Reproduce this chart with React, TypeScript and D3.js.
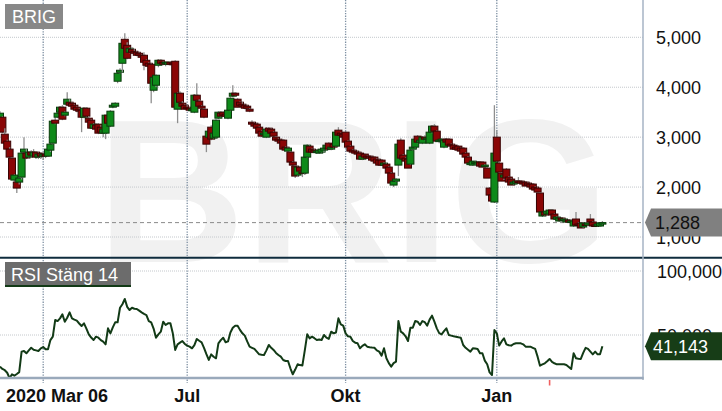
import React from 'react';
import * as d3 from 'd3';

// Daily candles, 2020-03-06 .. 2021-03-05 (index = trading day)
const OPEN = [
  3320, 3400, 3060, 2920, 2760, 2580, 2140, 2100, 2100, 2200,
  2700, 2680, 2600, 2700, 2620, 2700, 2600, 2680, 2620, 2660,
  2620, 2740, 2880, 3340, 3400, 3500, 3600, 3440, 3660, 3700,
  3680, 3640, 3600, 3560, 3540, 3400, 3580, 3380, 3340, 3180,
  3240, 3260, 3200, 3080, 3080, 3440, 3220, 3600, 3620, 4120,
  4300, 4480, 4960, 4840, 4700, 4760, 4720, 4700, 4680, 4640,
  4640, 4540, 4480, 4460, 3940, 4040, 4440, 4540, 4500, 4480,
  4460, 4500, 4480, 4520, 3560, 3880, 3680, 3640, 3600, 3580,
  3540, 3500, 3840, 3720, 3620, 3560, 3020, 3000, 3200, 2980,
  3000, 3380, 3480, 3500, 3460, 3380, 3540, 3820, 3880, 3760,
  3700, 3660, 3640, 3620, 3560, 3300, 3280, 3260, 3200, 3120,
  3060, 3000, 3180, 3160, 3100, 3000, 2960, 2940, 2940, 2800,
  2720, 2700, 2500, 2420, 2240, 2400, 2300, 2280, 2600, 2820,
  2760, 2740, 2700, 2680, 2700, 2740, 2780, 2880, 2760, 2860,
  2820, 3140, 3080, 3060, 3100, 2920, 2820, 2740, 2720, 2700,
  2680, 2560, 2660, 2620, 2620, 2600, 2600, 2560, 2540, 2540,
  2440, 2460, 2400, 2280, 2040, 2120, 2440, 2940, 2640, 2580,
  2560, 2460, 2760, 2800, 3020, 2900, 2880, 3000, 2960, 2880,
  3100, 3220, 3120, 2920, 2940, 2800, 2960, 2960, 2860, 2840,
  2800, 2820, 2780, 2780, 2680, 2600, 2460, 2440, 2480, 2460,
  2500, 2500, 2420, 2380, 1980, 1840, 1700, 3000, 2480, 2280,
  2200, 2360, 2200, 2160, 2060, 2080, 2120, 2120, 2100, 2100,
  2080, 2060, 2060, 2000, 1980, 1880, 1420, 1500, 1460, 1460,
  1540, 1460, 1360, 1320, 1380, 1340, 1300, 1340, 1300, 1220,
  1360, 1260, 1280, 1200, 1260, 1240, 1360, 1300, 1240, 1220,
  1220, 1260,
];
const HIGH = [
  3520, 3420, 3180, 2950, 2800, 2600, 2260, 2120, 2200, 2700,
  3000, 2760, 2720, 2740, 2760, 2720, 2700, 2700, 2700, 2680,
  2780, 2880, 3340, 3400, 3500, 3620, 3640, 3520, 3900, 3760,
  3700, 3660, 3620, 3580, 3560, 3600, 3600, 3420, 3360, 3280,
  3260, 3280, 3240, 3180, 3440, 3480, 3540, 3680, 3700, 4300,
  4380, 4900, 5080, 4900, 4800, 4800, 4760, 4720, 4700, 4660,
  4700, 4560, 4500, 4480, 4220, 4260, 4560, 4560, 4520, 4520,
  4520, 4520, 4500, 4540, 3900, 3920, 3720, 3660, 3640, 3600,
  3580, 3860, 4080, 3760, 3640, 3580, 3040, 3140, 3240, 3100,
  3360, 3520, 3520, 3520, 3480, 3560, 3800, 4040, 3900, 3780,
  3720, 3700, 3660, 3640, 3580, 3340, 3300, 3280, 3220, 3140,
  3100, 3200, 3200, 3180, 3120, 3020, 2980, 2960, 2960, 2820,
  2800, 2720, 2520, 2440, 2420, 2420, 2320, 2620, 2860, 2840,
  2780, 2760, 2740, 2760, 2780, 2800, 2860, 2900, 2820, 2880,
  3100, 3200, 3100, 3080, 3120, 2940, 2840, 2760, 2740, 2720,
  2700, 2640, 2680, 2640, 2640, 2620, 2620, 2580, 2560, 2560,
  2500, 2480, 2420, 2300, 2160, 2180, 2860, 2980, 2660, 2600,
  2580, 2760, 2820, 2980, 3040, 2960, 3020, 3040, 3000, 3120,
  3240, 3260, 3140, 2960, 2980, 2960, 2980, 2980, 2880, 2860,
  2820, 2840, 2800, 2800, 2700, 2620, 2500, 2520, 2520, 2520,
  2520, 2520, 2460, 2400, 2000, 1880, 3640, 3140, 2500, 2300,
  2260, 2380, 2220, 2180, 2120, 2140, 2200, 2140, 2120, 2120,
  2100, 2080, 2080, 2020, 2000, 1900, 1500, 1520, 1540, 1540,
  1560, 1480, 1420, 1400, 1400, 1380, 1360, 1360, 1360, 1340,
  1500, 1300, 1300, 1300, 1300, 1300, 1460, 1320, 1260, 1280,
  1300, 1320,
];
const LOW = [
  3280, 3080, 2880, 2620, 2560, 2160, 2100, 1880, 2050, 2150,
  2650, 2560, 2560, 2600, 2600, 2560, 2560, 2560, 2540, 2580,
  2600, 2700, 2860, 3260, 3380, 3460, 3340, 3420, 3620, 3620,
  3600, 3540, 3500, 3500, 3100, 3380, 3400, 3280, 3180, 3160,
  3140, 3060, 3080, 3000, 2960, 3260, 3200, 3580, 3600, 4080,
  4280, 4300, 4760, 4560, 4680, 4680, 4660, 4620, 4620, 4580,
  4340, 4420, 4400, 3680, 3900, 4000, 4400, 4460, 4440, 4420,
  4440, 4440, 4420, 3580, 3280, 3680, 3600, 3560, 3540, 3520,
  3500, 3480, 3720, 3600, 3560, 3380, 2700, 2960, 2940, 2960,
  2980, 3360, 3400, 3420, 3400, 3360, 3520, 3800, 3820, 3600,
  3620, 3600, 3560, 3560, 3500, 3240, 3200, 3160, 3060, 3000,
  3000, 2980, 3100, 3060, 3000, 2920, 2900, 2860, 2760, 2720,
  2700, 2500, 2420, 2180, 2200, 2300, 2200, 2240, 2580, 2680,
  2680, 2680, 2660, 2660, 2680, 2700, 2740, 2740, 2740, 2780,
  2800, 3040, 3020, 2980, 2880, 2800, 2720, 2680, 2660, 2640,
  2560, 2540, 2600, 2580, 2560, 2540, 2520, 2480, 2440, 2440,
  2420, 2380, 2280, 2080, 2000, 2100, 2220, 2580, 2560, 2500,
  2380, 2440, 2740, 2780, 2880, 2880, 2860, 2940, 2900, 2860,
  3080, 3100, 2920, 2880, 2900, 2780, 2880, 2840, 2800, 2760,
  2740, 2740, 2700, 2660, 2600, 2480, 2440, 2420, 2440, 2440,
  2420, 2400, 2400, 2180, 1840, 1700, 1680, 2500, 2300, 2120,
  2140, 2180, 2100, 2040, 2040, 2060, 2080, 2080, 2060, 2020,
  2020, 2000, 1960, 1920, 1900, 1500, 1400, 1420, 1440, 1440,
  1440, 1340, 1340, 1300, 1320, 1320, 1280, 1280, 1260, 1200,
  1240, 1220, 1180, 1180, 1220, 1220, 1300, 1220, 1200, 1200,
  1200, 1240,
];
const CLOSE = [
  3480, 3100, 2880, 2760, 2600, 2160, 2240, 1980, 2180, 2680,
  2760, 2580, 2700, 2640, 2700, 2600, 2660, 2620, 2660, 2620,
  2760, 2860, 3320, 3280, 3480, 3600, 3360, 3500, 3760, 3640,
  3620, 3560, 3540, 3520, 3400, 3580, 3420, 3300, 3180, 3260,
  3160, 3080, 3100, 3160, 3440, 3280, 3520, 3640, 3680, 4280,
  4340, 4880, 4780, 4580, 4780, 4700, 4680, 4640, 4640, 4600,
  4500, 4440, 4420, 4080, 4200, 4240, 4540, 4480, 4460, 4500,
  4500, 4460, 4460, 3600, 3880, 3700, 3620, 3560, 3580, 3540,
  3560, 3840, 3740, 3620, 3580, 3400, 2860, 3120, 2960, 3080,
  3340, 3500, 3420, 3440, 3420, 3540, 3780, 3880, 3840, 3600,
  3640, 3620, 3580, 3580, 3520, 3260, 3220, 3180, 3080, 3020,
  3080, 3160, 3120, 3080, 3020, 2940, 2920, 2880, 2760, 2740,
  2780, 2500, 2440, 2220, 2400, 2320, 2280, 2600, 2840, 2700,
  2700, 2700, 2720, 2740, 2760, 2780, 2840, 2760, 2800, 2800,
  3100, 3040, 3040, 3000, 2900, 2800, 2720, 2700, 2680, 2660,
  2560, 2620, 2600, 2580, 2580, 2540, 2520, 2480, 2440, 2440,
  2480, 2380, 2280, 2080, 2120, 2160, 2860, 2580, 2560, 2520,
  2380, 2740, 2800, 2960, 2900, 2940, 3000, 2960, 2980, 3100,
  3220, 3120, 2920, 2940, 2960, 2940, 2900, 2840, 2820, 2760,
  2760, 2740, 2720, 2660, 2600, 2480, 2480, 2520, 2500, 2500,
  2420, 2400, 2440, 2180, 1840, 1720, 2680, 2520, 2300, 2120,
  2240, 2180, 2100, 2040, 2100, 2120, 2100, 2080, 2060, 2020,
  2040, 2000, 1960, 1940, 1900, 1500, 1500, 1440, 1520, 1540,
  1440, 1360, 1400, 1380, 1340, 1360, 1340, 1300, 1320, 1320,
  1240, 1240, 1180, 1280, 1240, 1280, 1300, 1220, 1220, 1260,
  1280, 1288,
];

// RSI (close, 14)
const RSI = [
  25.3, 23.5, 22.5, 20.5, 16.2, 19.3, 18.2, 19.5, 21, 37,
  37.5, 35.7, 38, 40, 38.5, 38, 37.5, 39.6, 40.6, 38.8,
  38.8, 46, 48.7, 61.7, 60.9, 63, 66.1, 60.4, 63.5, 67.7,
  63, 62, 61.2, 59, 57, 59.1, 55, 50.5, 48, 46.1,
  48.7, 47.9, 46, 44.8, 42.7, 55.2, 51.3, 56, 59.9, 59.9,
  71.3, 74, 78.1, 72, 69.5, 71.3, 70.5, 70.3, 69, 67.7,
  66.5, 65.6, 60.9, 59.9, 55, 47.9, 50.5, 52.6, 60.4, 57.8,
  59.1, 59.1, 51.3, 38.3, 42.7, 44, 45.3, 43, 41.7, 40.9,
  39.6, 42.1, 46.9, 45.5, 44.3, 40, 35, 30.5, 34.9, 33,
  31.8, 43.5, 46, 47.9, 44.3, 45, 52, 55.7, 57.3, 57.3,
  54, 51.3, 49.5, 45, 40.9, 40, 39.1, 37, 34.9, 34.6,
  34.4, 38, 42.2, 40, 38.3, 36, 34.4, 33.1, 30.5, 29.7,
  29.7, 24, 19.3, 23, 27.1, 26.5, 26.2, 38, 50.5, 47.4,
  48.7, 47.5, 46.1, 46.5, 46.1, 50, 48, 47, 52.6, 51.3,
  52, 63, 58.3, 57.3, 51.3, 49, 48.7, 45.3, 44, 43.5,
  39.6, 41.5, 42.7, 40.9, 40.5, 40.2, 40, 38, 37, 33.9,
  39.6, 31.8, 28, 25.3, 28, 29.2, 60.9, 52.6, 51.3, 49,
  45.3, 55.7, 55.7, 60.9, 60.4, 57.8, 60.9, 60, 57.3, 62,
  65.1, 60.4, 55.2, 51.5, 50.5, 53, 55.2, 50, 49.5, 49,
  48.7, 48.2, 47.9, 42.2, 40, 38.5, 37, 39.6, 39.5, 39.1,
  35.7, 35.7, 30, 27.1, 20.8, 18.7, 53.9, 51.3, 41.7, 45,
  47.4, 42.7, 42, 41.7, 43, 43.5, 43.5, 43.5, 42.7, 40.9,
  40.9, 40.9, 40, 39.1, 33.1, 26, 27, 27.9, 29.5, 31.3,
  29, 27.9, 27.1, 27.1, 27.1, 27.1, 26.6, 25, 23.4, 35.7,
  31.8, 31.5, 31.3, 36, 40, 39.1, 37, 34.9, 37, 34.9,
  34.9, 41.143,
];

const PRICE_TICKS = [1000, 2000, 3000, 4000, 5000];
const RSI_TICKS = [50, 100];
const TIME_TICKS = [18, 78, 144, 207];
const TIME_LABELS = ['', 'Jul', 'Okt', 'Jan'];
const FIRST_LABEL = '2020 Mar 06';
const EVENT_MARKS = [229];
const SYMBOL = 'BRIG';
const RSI_TITLE = 'RSI Stäng 14';

const W = 722;
const H = 411;
const PLOT_R = 643;
const FONT = '"Liberation Sans", Arial, sans-serif';

const UP_FILL = '#0e8a1a';
const UP_STROKE = '#0a3a0c';
const DOWN_FILL = '#8a0606';
const DOWN_STROKE = '#3a0404';

const sv = d3.formatLocale({ decimal: ',', thousands: ' ', grouping: [3], currency: ['', ''] });
const fmtRsi = sv.format('.3f');
const fmtPrice = d3.format(',');

export default function App() {
  const x = d3.scaleLinear().domain([0, 268]).range([0, 643.2]);
  const yP = d3.scaleLinear().domain([1000, 5000]).range([237, 37.3]);
  const yR = d3.scaleLinear().domain([50, 100]).range([335, 271]);

  const lastPrice = CLOSE[CLOSE.length - 1];
  const lastRsi = RSI[RSI.length - 1];

  const rsiPath = d3.line<number>()
    .x((_, i) => x(i))
    .y(d => yR(d))(RSI) || '';

  const tag = (y: number) =>
    `M645,${y} L651,${y - 14} L722,${y - 14} L722,${y + 14} L651,${y + 14} Z`;

  return (
    <svg width={W} height={H} viewBox={`0 0 ${W} ${H}`}
      style={{ position: 'absolute', left: 0, top: 0, background: '#fff' }}
      fontFamily={FONT}>
      <defs>
        <clipPath id="pclip"><rect x={0} y={0} width={PLOT_R} height={257} /></clipPath>
        <clipPath id="rclip"><rect x={0} y={258} width={PLOT_R} height={121} /></clipPath>
      </defs>
      <rect x={0} y={0} width={W} height={H} fill="#fff" />

      {/* watermark */}
      <text x={97} y={262} fontSize={205} fontWeight="bold" fill="#f1f1f1">{SYMBOL}</text>

      {/* horizontal gridlines */}
      {PRICE_TICKS.map(t => (
        <line key={'pg' + t} x1={0} x2={PLOT_R} y1={yP(t)} y2={yP(t)}
          stroke="#c4c8cc" strokeWidth={1} strokeDasharray="1,1" />
      ))}
      {RSI_TICKS.map(t => (
        <line key={'rg' + t} x1={0} x2={PLOT_R} y1={yR(t)} y2={yR(t)}
          stroke="#c4c8cc" strokeWidth={1} strokeDasharray="1,1" />
      ))}

      {/* vertical gridlines */}
      {TIME_TICKS.map(t => (
        <line key={'vg' + t} x1={x(t)} x2={x(t)} y1={0} y2={383}
          stroke="#7d8fa2" strokeWidth={1.3} strokeDasharray="1.3,1.3" />
      ))}

      {/* last price line */}
      <line x1={0} x2={PLOT_R} y1={yP(lastPrice)} y2={yP(lastPrice)}
        stroke="#8a8a8a" strokeWidth={1} strokeDasharray="4,3" />

      {/* candles */}
      <g clipPath="url(#pclip)">
        {CLOSE.map((c, i) => {
          const o = OPEN[i];
          const up = c >= o;
          const cx = x(i);
          const top = yP(Math.max(o, c));
          const bot = yP(Math.min(o, c));
          return (
            <g key={i}>
              <line x1={cx} x2={cx} y1={yP(HIGH[i])} y2={yP(LOW[i])} stroke="#8e8e8e" strokeWidth={1.3} />
              <rect x={cx - 3.5} y={top} width={7} height={Math.max(bot - top, 1.5)}
                fill={up ? UP_FILL : DOWN_FILL} stroke={up ? UP_STROKE : DOWN_STROKE} strokeWidth={1} />
            </g>
          );
        })}
      </g>

      {/* RSI */}
      <g clipPath="url(#rclip)">
        <path d={rsiPath} fill="none" stroke="#123a16" strokeWidth={2} strokeLinejoin="round" />
      </g>

      {/* frame */}
      <line x1={0} x2={W} y1={257.7} y2={257.7} stroke="#0f2c3e" strokeWidth={2} />
      <line x1={PLOT_R} x2={PLOT_R} y1={0} y2={380} stroke="#a6b3c4" strokeWidth={1.5} />
      <line x1={0} x2={PLOT_R + 0.7} y1={378} y2={378} stroke="#9aa9bb" strokeWidth={2.6} />

      {EVENT_MARKS.map(t => (
        <line key={'ev' + t} x1={x(t)} x2={x(t)} y1={380} y2={385.5} stroke="#f06060" strokeWidth={1.6} />
      ))}

      {/* panel titles */}
      <rect x={5} y={4} width={58} height={25} fill="#888" />
      <text x={12} y={22.5} fontSize={18} fill="#fff">{SYMBOL}</text>
      <rect x={5} y={262} width={126} height={23} fill="#6c6c6c" />
      <rect x={5} y={285} width={126} height={2} fill="#123a16" />
      <text x={11} y={280.5} fontSize={18} fill="#fff">{RSI_TITLE}</text>

      {/* price axis */}
      {PRICE_TICKS.map(t => (
        <text key={'pl' + t} x={656} y={yP(t) + 6.5} fontSize={18} fill="#111">{fmtPrice(t)}</text>
      ))}
      <path d={tag(yP(lastPrice))} fill="#808080" />
      <text x={655} y={yP(lastPrice) + 6.5} fontSize={18} fill="#111">{fmtPrice(lastPrice)}</text>

      {/* RSI axis */}
      {RSI_TICKS.map(t => (
        <text key={'rl' + t} x={657} y={yR(t) + 6.5} fontSize={18} fill="#111">{fmtRsi(t)}</text>
      ))}
      <path d={tag(yR(lastRsi))} fill="#173d17" />
      <text x={653} y={yR(lastRsi) + 6.5} fontSize={18} fill="#fff">{fmtRsi(lastRsi)}</text>

      {/* time axis */}
      <text x={6} y={402} fontSize={18} fontWeight="bold" fill="#111">{FIRST_LABEL}</text>
      {TIME_TICKS.map((t, k) => TIME_LABELS[k] ? (
        <text key={'tl' + t} x={x(t)} y={402} fontSize={18} fontWeight="bold" fill="#111" textAnchor="middle">{TIME_LABELS[k]}</text>
      ) : null)}
    </svg>
  );
}
